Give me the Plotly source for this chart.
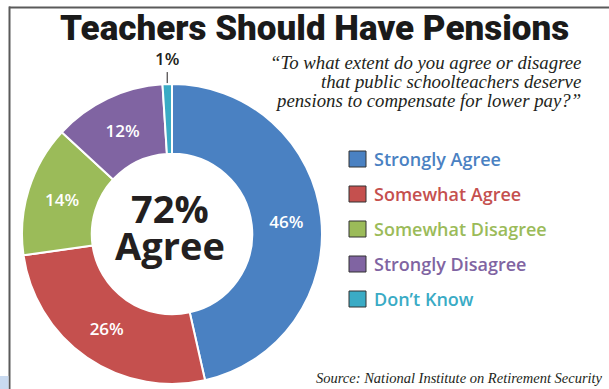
import math
import plotly.graph_objects as go

labels = ["Strongly Agree", "Somewhat Agree", "Somewhat Disagree", "Strongly Disagree", "Don\u2019t Know"]
values = [46, 26, 14, 12, 1]
colors = ["#4a81c2", "#c5504e", "#9bbb59", "#8064a2", "#3aabc5"]

title = "Teachers Should Have Pensions"
question = ["\u201cTo what extent do you agree or disagree",
            "that public schoolteachers deserve",
            "pensions to compensate for lower pay?\u201d"]
source = "Source: National Institute on Retirement Security"
agree_total = values[0] + values[1]

W, H = 609, 389
cx, cy, R = 172, 234, 150
SERIF = "'Liberation Serif', 'Times New Roman', Times, serif"

def px(x):
    return x / W

def py(y):
    return 1 - y / H

# small slices get their label outside, via annotation
texts = [f"{v}%" if v >= 5 else "" for v in values]

fig = go.Figure()
fig.add_trace(go.Pie(
    labels=labels, values=values, sort=False, direction="clockwise", rotation=0,
    hole=0.535, text=texts, textinfo="text", textposition="inside",
    marker=dict(colors=colors, line=dict(color="white", width=2)),
    insidetextorientation="horizontal",
    insidetextfont=dict(color="white", size=17, family="Open Sans", weight=600),
    domain=dict(x=[px(cx - R), px(cx + R)], y=[py(cy + R), py(cy - R)]),
    showlegend=False, hoverinfo="label+value",
))

annotations = []
total = sum(values)
cum = 0
for v in values:
    mid = (cum + v / 2) / total * 2 * math.pi
    cum += v
    if v >= 5:
        continue
    xa = cx + (R + 1) * math.sin(mid)
    ya = cy - (R + 1) * math.cos(mid)
    annotations.append(dict(text=f"{v}%", x=px(xa), y=py(ya), xref="paper", yref="paper",
                            showarrow=True, arrowhead=0, arrowwidth=1, arrowcolor="#231f20",
                            ax=0, ay=-11, xanchor="center", yanchor="bottom",
                            font=dict(family="Open Sans", size=17, color="#231f20", weight=600)))

annotations.append(dict(text=title, x=px(314), y=py(28), xref="paper", yref="paper",
                        showarrow=False, xanchor="center", yanchor="middle",
                        font=dict(family="Roboto", size=35, color="#1a1a1a", weight=900)))
for i, line in enumerate(question):
    annotations.append(dict(text="<i>" + line + "</i>", x=px(583), y=py(63 + i * 18.7),
                            xref="paper", yref="paper", showarrow=False,
                            xanchor="right", yanchor="middle",
                            font=dict(family=SERIF, size=18.8, color="#231f20")))
annotations.append(dict(text="<i>" + source + "</i>", x=px(605), y=py(378), xref="paper", yref="paper",
                        showarrow=False, xanchor="right", yanchor="middle",
                        font=dict(family=SERIF, size=14.5, color="#231f20")))
annotations.append(dict(text=f"{agree_total}%", x=px(cx - 2), y=py(208), xref="paper", yref="paper",
                        showarrow=False, xanchor="center", yanchor="middle",
                        font=dict(family="Open Sans", size=38, color="#231f20", weight=700)))
annotations.append(dict(text="Agree", x=px(cx - 2), y=py(245), xref="paper", yref="paper",
                        showarrow=False, xanchor="center", yanchor="middle",
                        font=dict(family="Open Sans", size=38, color="#231f20", weight=700)))

shapes = []
for i, (lab, col) in enumerate(zip(labels, colors)):
    yc = 159 + i * 35
    shapes.append(dict(type="rect", xref="paper", yref="paper",
                       x0=px(349), x1=px(366), y0=py(yc + 8), y1=py(yc - 8),
                       fillcolor=col, line=dict(color="#333333", width=1)))
    annotations.append(dict(text=lab, x=px(372), y=py(yc), xref="paper", yref="paper",
                            showarrow=False, xanchor="left", yanchor="middle",
                            font=dict(family="Open Sans", size=18, color=col, weight=600)))

# frame
shapes.append(dict(type="line", xref="paper", yref="paper", x0=px(9), x1=1, y0=py(7.5), y1=py(7.5),
                   line=dict(color="#5a5a5a", width=2)))
shapes.append(dict(type="line", xref="paper", yref="paper", x0=px(9.5), x1=px(9.5), y0=py(6.5), y1=0,
                   line=dict(color="#5a5a5a", width=2)))
shapes.append(dict(type="rect", xref="paper", yref="paper", x0=0, x1=px(8.5), y0=0, y1=py(376),
                   fillcolor="#c9daf0", line=dict(width=0)))

fig.update_layout(width=W, height=H, margin=dict(l=0, r=0, t=0, b=0),
                  paper_bgcolor="white", plot_bgcolor="white",
                  annotations=annotations, shapes=shapes)

fig.write_html("out.html")
